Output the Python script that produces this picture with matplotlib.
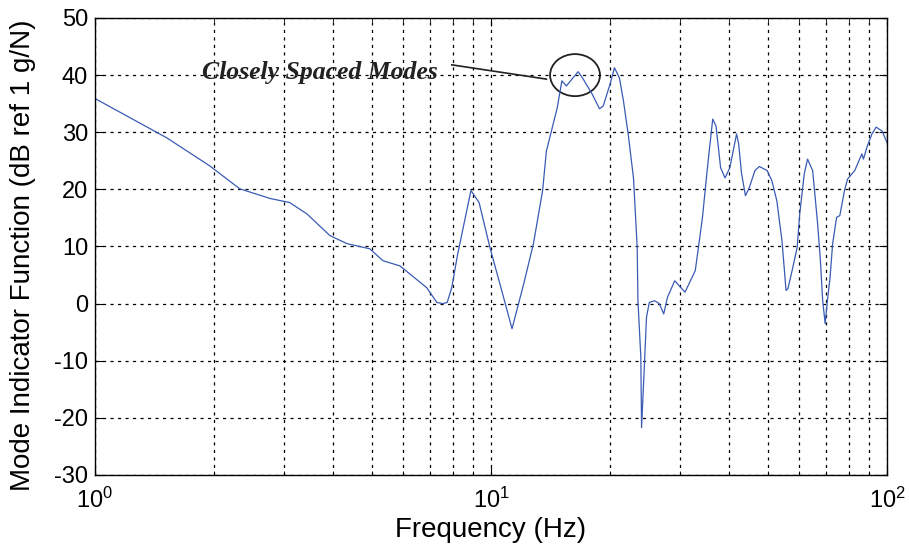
import matplotlib
matplotlib.use("Agg")
import matplotlib.pyplot as plt
from matplotlib.patches import Ellipse
import numpy as np

plt.rcParams['font.family'] = ['Liberation Sans', 'DejaVu Sans']
plt.rcParams['mathtext.default'] = 'regular'
plt.rcParams['axes.unicode_minus'] = False

# mode indicator function
freq = [1.00, 1.52, 1.95, 2.32, 2.77, 3.10, 3.43, 3.92, 4.33, 4.94, 5.34, 5.89,
        6.88, 7.30, 7.56, 7.75, 7.96, 8.24, 8.90, 9.33, 9.94, 10.7, 11.3, 12.1,
        12.8, 13.5, 13.8, 14.7, 15.1, 15.5, 16.1, 16.6, 17.1, 18.0, 18.8, 19.2,
        20.0, 20.5, 21.1, 21.6, 22.2, 22.9, 23.4, 23.5, 23.9, 24.0, 24.3, 24.7,
        25.1, 25.9, 26.6, 27.3, 27.9, 29.1, 30.9, 32.8, 33.4, 34.2, 35.2, 36.3,
        37.0, 38.0, 39.0, 40.1, 41.7, 42.2, 42.9, 43.9, 44.9, 46.4, 47.6, 49.8,
        51.2, 52.7, 54.3, 55.6, 56.2, 57.6, 59.3, 60.2, 61.8, 63.0, 64.9, 66.8,
        67.9, 68.8, 69.8, 70.7, 71.8, 72.9, 74.6, 76.0, 78.1, 79.5, 82.9, 86.4,
        87.2, 88.9, 91.6, 93.9, 97.2, 100.0]
mif = [35.9, 29.0, 24.1, 20.1, 18.4, 17.7, 15.7, 11.9, 10.5, 9.6, 7.5, 6.6,
       2.8, 0.2, 0.0, 0.2, 2.8, 8.7, 19.8, 17.7, 9.8, 1.7, -4.4, 3.5,
       10.5, 19.8, 26.7, 34.3, 39.0, 38.1, 39.5, 40.6, 39.3, 36.7, 34.1, 34.6,
       38.5, 41.3, 39.5, 35.5, 29.7, 22.0, 9.8, 0.5, -9.4, -21.7, -13.5, -2.4,
       0.2, 0.5, 0.0, -1.8, 1.1, 4.0, 2.0, 5.8, 9.8, 15.1, 23.8, 32.3,
       31.1, 23.8, 22.0, 23.8, 29.7, 28.0, 22.9, 18.9, 20.3, 23.3, 24.0, 23.3,
       21.5, 18.0, 11.0, 2.3, 2.6, 5.8, 9.8, 15.7, 22.7, 25.3, 23.3, 14.0,
       7.5, 0.5, -3.5, 0.5, 4.5, 10.5, 15.1, 15.4, 19.8, 21.8, 23.3, 26.2,
       25.3, 27.3, 29.7, 30.9, 30.2, 28.2]

fig = plt.figure(figsize=(9.09, 5.52), dpi=100)
ax = fig.add_axes([0.1045, 0.1395, 0.8713, 0.8279])

ax.semilogx(freq, mif, color='#3a5bb5', lw=0.9)

ax.set_xlim(1, 100)
ax.set_ylim(-30, 50)
ax.set_yticks(np.arange(-30, 51, 10))
ax.grid(True, which='both', color='black', linestyle=(0, (2.5, 3.5)), lw=0.9)
ax.tick_params(which='both', direction='in', labelsize=17, top=True, right=True)
ax.tick_params(axis='x', pad=9)
ax.tick_params(axis='y', pad=5)
ax.tick_params(which='major', length=6)
ax.tick_params(which='minor', length=3)
for s in ax.spines.values():
    s.set_linewidth(1.0)

ax.set_xlabel('Frequency (Hz)', fontsize=20, labelpad=3)
ax.set_ylabel('Mode Indicator Function (dB ref 1 g/N)', fontsize=20)
ax.yaxis.set_label_coords(-0.075, 0.48)

# callout for the pair of close peaks
ax.text(3.7, 40.4, 'Closely Spaced Modes', ha='center', va='center',
        family='Liberation Serif', fontweight='bold', style='italic',
        fontsize=18.5, color='#222222')
ax.plot([7.96, 13.8], [41.8, 39.3], color='#222222', lw=1.2)
ax.add_patch(Ellipse((np.log10(16.3) / 2, 0.875), 0.063, 0.092,
                     transform=ax.transAxes, fill=False,
                     edgecolor='#222222', lw=1.3))

fig.savefig('out.png', dpi=100)
